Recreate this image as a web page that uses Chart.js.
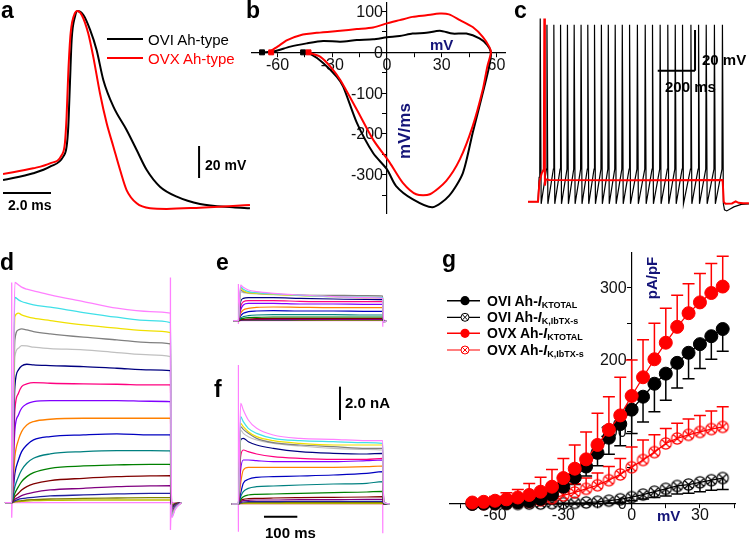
<!DOCTYPE html>
<html>
<head>
<meta charset="utf-8">
<title>Ah-type neurons</title>
<script src="https://cdn.jsdelivr.net/npm/chart.js"></script>
<style>
  body { margin: 0; background: #fff; font-family: "Liberation Sans", Arial, sans-serif; }
  #fig { position: relative; width: 749px; height: 539px; overflow: hidden; }
  #fig canvas, #fig .t, #fig svg, #fig .ln { position: absolute; }
  .t { line-height: 1; white-space: nowrap; color: #000; }
  .p { font-size: 23px; font-weight: bold; }
  .s { font-size: 15px; font-weight: bold; }
  .u { font-size: 15px; font-weight: bold; color: #141478; }
  .rot { transform: translate(-50%, -50%) rotate(-90deg); }
  .lg { font-size: 14px; font-weight: bold; }
  .lg sub { font-size: 9px; vertical-align: -2px; line-height: 0; }
</style>
</head>
<body>
<div id="fig">
  <canvas id="chartA" width="250" height="215" style="left:3px;top:0"></canvas>
  <canvas id="chartB" width="275" height="230" style="left:240px;top:0"></canvas>
  <canvas id="chartC" width="221" height="205" style="left:528px;top:10px"></canvas>
  <canvas id="chartD" width="190" height="265" style="left:0;top:270px"></canvas>
  <canvas id="chartE" width="165" height="60" style="left:225px;top:270px"></canvas>
  <canvas id="chartF" width="165" height="175" style="left:225px;top:360px"></canvas>
  <canvas id="chartG" width="300" height="285" style="left:440px;top:245px"></canvas>

  <div class="t p" style="left:1px;top:-1px">a</div>
  <div class="t p" style="left:246px;top:-1px">b</div>
  <div class="t p" style="left:514px;top:-1px">c</div>
  <div class="t p" style="left:0;top:251px">d</div>
  <div class="t p" style="left:216px;top:251px">e</div>
  <div class="t p" style="left:214px;top:378px">f</div>
  <div class="t p" style="left:442px;top:248px">g</div>

  <!-- a -->
  <div class="ln" style="left:107px;top:38px;width:36px;height:2px;background:#000"></div>
  <div class="ln" style="left:107px;top:57px;width:36px;height:2px;background:#ff0000"></div>
  <div class="t" style="left:148px;top:32px;font-size:15px">OVI Ah-type</div>
  <div class="t" style="left:148px;top:51px;font-size:15px;color:#ff0000">OVX Ah-type</div>
  <div class="t" style="left:205px;top:158px;font-size:14px;font-weight:bold">20 mV</div>
  <div class="t" style="left:8px;top:198px;font-size:14px;font-weight:bold">2.0 ms</div>

  <!-- b -->
  <div class="t u" style="left:430px;top:37px">mV</div>
  <div class="t u rot" style="left:404px;top:131px;font-size:17px">mV/ms</div>

  <!-- c -->
  <div class="t s" style="left:702px;top:52px">20 mV</div>
  <div class="t s" style="left:665px;top:79px">200 ms</div>

  <!-- f -->
  <div class="t s" style="left:345px;top:395px">2.0 nA</div>
  <div class="t s" style="left:265px;top:525px">100 ms</div>

  <!-- g -->
  <div class="t u rot" style="left:651px;top:278px">pA/pF</div>
  <div class="t u" style="left:657px;top:508px">mV</div>
  <svg style="left:445px;top:292px" width="40" height="66">
    <line x1="2" y1="8.7" x2="35" y2="8.7" stroke="#000" stroke-width="1.5"/>
    <circle cx="20" cy="8.7" r="4.6" fill="#000"/>
    <line x1="2" y1="25.3" x2="35" y2="25.3" stroke="#000" stroke-width="1.2"/>
    <circle cx="20" cy="25.3" r="4" fill="#fff" stroke="#000" stroke-width="1"/>
    <path d="M17.2 22.5 L22.8 28.1 M22.8 22.5 L17.2 28.1" stroke="#000" stroke-width="1"/>
    <line x1="2" y1="41.3" x2="35" y2="41.3" stroke="#ff0000" stroke-width="1.5"/>
    <circle cx="20" cy="41.3" r="4.6" fill="#ff0000"/>
    <line x1="2" y1="58" x2="35" y2="58" stroke="#ff0000" stroke-width="1.2"/>
    <circle cx="20" cy="58" r="4" fill="#fff" stroke="#ff0000" stroke-width="1"/>
    <path d="M17.2 55.2 L22.8 60.8 M22.8 55.2 L17.2 60.8" stroke="#ff0000" stroke-width="1"/>
  </svg>
  <div class="t lg" style="left:487px;top:294px">OVI Ah-<i>I</i><sub>KTOTAL</sub></div>
  <div class="t lg" style="left:487px;top:310px">OVI Ah-<i>I</i><sub>K,IbTX-s</sub></div>
  <div class="t lg" style="left:487px;top:326px">OVX Ah-<i>I</i><sub>KTOTAL</sub></div>
  <div class="t lg" style="left:487px;top:343px">OVX Ah-<i>I</i><sub>K,IbTX-s</sub></div>
</div>

<script>
// a: single action potentials (ms, mV)
const apTimeOvi = [0, 1.26, 1.96, 2.51, 2.65, 2.72, 2.79, 2.86, 3.0, 3.1, 3.35, 3.63, 3.9, 4.18, 4.6, 5.15, 5.57, 5.99, 6.54, 7.24, 8.21, 9.58, 10.29];
const apVoltOvi = [-60, -55.8, -51.7, -45.4, -39.2, -26.7, 0.6, 27.5, 42.1, 45.6, 43.1, 33.8, 21.3, 2.5, -14.2, -28.8, -41.3, -53.8, -64.2, -70.4, -75, -77.1, -77.7];
const apTimeOvx = [0, 1.26, 1.96, 2.45, 2.58, 2.65, 2.72, 2.82, 3.0, 3.1, 3.28, 3.55, 3.76, 4.04, 4.32, 4.6, 4.88, 5.15, 5.57, 6.13, 6.82, 8.21, 9.58, 10.29];
const apVoltOvx = [-56.3, -52.7, -49.6, -44.4, -36.9, -20.4, 6.9, 31.9, 44.4, 45.6, 43.1, 31.7, 17.1, -5.8, -24.6, -39.2, -53.8, -66.3, -74.6, -77.7, -78.1, -77.3, -76.3, -75.6];

// b: phase plots, membrane potential (mV) vs dV/dt (mV/ms)
const phaseVOvi = [-68.5, -62, -53, -44, -35, -25.6, -16.5, -7.6, 0, 7, 14, 21.6, 29, 36, 43.5, 50.7, 55, 57, 56, 52.5, 47, 41.6, 34, 25, 14, 5, 0, -7.6, -16.5, -24, -27.5, -35, -42, -46];
const phaseDvOvi = [0, 2, 14, 22, 28, 26, 30, 32, 37, 40, 46, 48, 53, 46, 46, 34, 18, 0, -35, -100, -197, -296, -352, -380, -360, -328, -287, -247, -173, -84, -60, -26, -4, 0];
const phaseVOvx = [-65, -60, -54.7, -47.5, -38, -25.6, -16.5, -7.6, 0, 7, 14, 21.6, 29, 34, 40, 47, 52.5, 56, 57, 55, 52.5, 47, 40, 32.5, 23.5, 16, 8.7, 1.6, -7.6, -16.5, -25.6, -31, -36.5, -42, -44];
const phaseDvOvx = [0, 14, 30, 42, 48, 53, 57, 61, 71, 79, 87, 91, 95, 93, 79, 62, 38, 14, 0, -35, -92, -181, -262, -315, -348, -348, -320, -271, -214, -141, -68, -35, -11, -2, 0];
const phaseStartOvi = [-68.5, -46];
const phaseStartOvx = [-63.5, -43];

// c: firing during a 1 s step (ms, mV)
const spikeTimes = [11, 47, 84, 120, 157, 193, 230, 266, 302, 339, 376, 413, 451, 490, 532, 574, 613, 654, 695, 735, 774, 819, 860, 901, 945, 988];
const spikePeaks = [30, 27, 27, 27, 27, 27, 27, 27, 27, 27, 27, 27, 27, 27, 27, 27, 27, 27, 27, 27, 27, 27, 27, 27, 27, 27];
const spikeThreshold = -44;
const spikeTrough = -61;
const spikeOffsets = [-1.5, 1, 6];
const trainPreT = [-54, 0, 6];
const trainPreV = [-60, -60, -48];
const trainPostT = [1000, 1012, 1050, 1090, 1131];
const trainPostV = [-64, -64.5, -62.5, -61.3, -61];
const singleT = [-54, 0, 8, 20, 31, 34, 37, 42, 60, 500, 990, 996, 1005, 1040, 1060, 1075, 1100, 1131];
const singleV = [-60, -60, -50, -46, -44, 30, -52, -49, -49.3, -49.4, -49.3, -60, -61, -60.8, -59.8, -60.5, -60.7, -60.7];

// d, e, f: current families (ms, nA)
const stepColors = ['#ff80ff', '#40e0e8', '#f0e000', '#808080', '#c0c0c0', '#000080', '#ff0080', '#8000ff', '#ff8000', '#0000c0', '#008080', '#008000', '#800000', '#800080', '#2020a0', '#808000', '#c0c000'];
const dTime = [-17, 0, 8, 17, 25, 38, 55, 97, 181, 265, 349, 400, 403, 412, 428];
const dCurrents = [
  [0, 0, 13.2, 13.06, 12.92, 12.8, 12.7, 12.46, 12.06, 11.66, 11.46, 11.36, -0.9, -0.4, 0],
  [0, 0, 12.3, 12.16, 12.06, 11.96, 11.86, 11.72, 11.4, 11.12, 10.92, 10.8, -0.85, -0.35, 0],
  [0, 0, 11.16, 11.36, 11.26, 11.16, 11.06, 10.92, 10.66, 10.46, 10.3, 10.2, -0.8, -0.35, 0],
  [0, 0, 9.76, 10.36, 10.42, 10.36, 10.26, 10.12, 9.92, 9.76, 9.6, 9.52, -0.75, -0.3, 0],
  [0, 0, 8.76, 9.26, 9.42, 9.4, 9.32, 9.24, 9.16, 9.0, 8.86, 8.76, -0.7, -0.3, 0],
  [0, 0, 6.96, 7.96, 8.2, 8.3, 8.26, 8.22, 8.16, 8.06, 7.96, 7.92, -0.65, -0.25, 0],
  [0, 0, 5.56, 6.56, 6.96, 7.12, 7.2, 7.16, 7.12, 7.1, 7.06, 7.06, -0.6, -0.25, 0],
  [0, 0, 4.36, 5.26, 5.66, 5.92, 6.06, 6.12, 6.12, 6.12, 6.08, 6.06, -0.55, -0.2, 0],
  [0, 0, 2.76, 3.76, 4.26, 4.66, 4.86, 5.0, 5.06, 5.06, 5.06, 5.06, -0.5, -0.2, 0],
  [0, 0, 1.76, 2.56, 3.06, 3.46, 3.76, 3.96, 4.06, 4.12, 4.06, 4.06, -0.45, -0.2, 0],
  [0, 0, 0.96, 1.56, 1.96, 2.36, 2.66, 2.92, 3.06, 3.12, 3.12, 3.1, -0.4, -0.15, 0],
  [0, 0, 0.56, 0.96, 1.26, 1.56, 1.8, 2.06, 2.2, 2.26, 2.3, 2.3, -0.35, -0.15, 0],
  [0, 0, 0.36, 0.56, 0.76, 0.96, 1.12, 1.32, 1.46, 1.56, 1.6, 1.62, -0.3, -0.1, 0],
  [0, 0, 0.2, 0.32, 0.42, 0.52, 0.62, 0.76, 0.86, 0.96, 1.0, 1.02, -0.25, -0.1, 0],
  [0, 0, 0.12, 0.2, 0.24, 0.28, 0.32, 0.4, 0.46, 0.52, 0.56, 0.56, -0.2, -0.08, 0],
  [0, 0, 0.06, 0.1, 0.12, 0.16, 0.18, 0.22, 0.26, 0.28, 0.3, 0.3, -0.15, -0.05, 0],
  [0, 0, 0.04, 0.06, 0.08, 0.1, 0.12, 0.14, 0.16, 0.16, 0.16, 0.16, -0.1, -0.05, 0],
];
const dEdgeT = [-17, 0, 0, 0, 1, 400, 400, 400, 402, 428];
const dEdgeI = [0, 0, 13.2, -0.9, 0, 0, 13.5, -1.64, 0, 0];

const eTime = [-15, 0, 7, 15, 30, 55, 105, 185, 285, 385, 433, 436, 445];
const eCurrents = [
  [0, 0, 2.14, 2.0, 1.84, 1.74, 1.64, 1.54, 1.44, 1.38, 1.34, -0.1, 0],
  [0, 0, 2.04, 1.88, 1.74, 1.68, 1.6, 1.52, 1.44, 1.4, 1.38, -0.1, 0],
  [0, 0, 1.94, 1.8, 1.68, 1.64, 1.58, 1.5, 1.44, 1.38, 1.36, -0.1, 0],
  [0, 0, 1.84, 1.74, 1.68, 1.64, 1.6, 1.54, 1.52, 1.5, 1.48, -0.1, 0],
  [0, 0, 1.74, 1.68, 1.64, 1.6, 1.56, 1.52, 1.5, 1.48, 1.48, -0.1, 0],
  [0, 0, 1.14, 1.34, 1.38, 1.38, 1.38, 1.34, 1.3, 1.28, 1.26, -0.08, 0],
  [0, 0, 0.84, 1.14, 1.2, 1.2, 1.2, 1.16, 1.14, 1.14, 1.14, -0.08, 0],
  [0, 0, 0.64, 0.94, 1.04, 1.04, 1.04, 1.0, 1.0, 0.98, 0.98, -0.06, 0],
  [0, 0, 0.44, 0.64, 0.74, 0.8, 0.82, 0.8, 0.78, 0.78, 0.78, -0.06, 0],
  [0, 0, 0.28, 0.44, 0.54, 0.58, 0.6, 0.58, 0.58, 0.56, 0.56, -0.05, 0],
  [0, 0, 0.16, 0.24, 0.3, 0.34, 0.36, 0.36, 0.36, 0.34, 0.34, -0.04, 0],
  [0, 0, 0.1, 0.14, 0.18, 0.2, 0.22, 0.22, 0.22, 0.22, 0.22, -0.03, 0],
  [0, 0, 0.06, 0.08, 0.1, 0.12, 0.14, 0.14, 0.14, 0.14, 0.14, -0.02, 0],
  [0, 0, 0.04, 0.06, 0.06, 0.08, 0.08, 0.08, 0.08, 0.08, 0.08, 0, 0],
  [0, 0, 0.02, 0.04, 0.04, 0.04, 0.04, 0.06, 0.06, 0.06, 0.06, 0, 0],
  [0, 0, 0.01, 0.02, 0.02, 0.02, 0.02, 0.02, 0.04, 0.04, 0.04, 0, 0],
  [0, 0, 0.01, 0.01, 0.01, 0.01, 0.01, 0.01, 0.01, 0.01, 0.01, 0, 0],
];
const eEdgeT = [-15, 0, 0, 0, 1, 433, 433, 433, 434, 445];
const eEdgeI = [0, 0, 2.2, -0.2, 0, 0, 0.2, -0.36, 0, 0];

const fTime = [-20, 0, 7, 15, 30, 55, 105, 185, 285, 385, 433, 436, 455];
const fCurrents = [
  [0, 0, 6.04, 5.64, 5.04, 4.54, 4.14, 3.94, 3.88, 3.8, 3.8, 0.1, 0],
  [0, 0, 5.24, 4.94, 4.54, 4.24, 3.94, 3.8, 3.74, 3.68, 3.64, 0.1, 0],
  [0, 0, 4.84, 4.64, 4.34, 4.04, 3.8, 3.64, 3.54, 3.54, 3.54, 0.1, 0],
  [0, 0, 4.64, 4.48, 4.24, 3.94, 3.68, 3.54, 3.44, 3.34, 3.34, 0.1, 0],
  [0, 0, 4.44, 4.24, 4.04, 3.84, 3.64, 3.48, 3.34, 3.28, 3.24, 0.1, 0],
  [0, 0, 3.84, 3.94, 3.74, 3.54, 3.34, 3.14, 3.04, 3.0, 3.04, 0.1, 0],
  [0, 0, 2.84, 3.24, 3.14, 3.0, 2.84, 2.74, 2.68, 2.68, 2.74, 0.1, 0],
  [0, 0, 2.04, 2.64, 2.64, 2.6, 2.54, 2.54, 2.54, 2.6, 2.64, 0.1, 0],
  [0, 0, 1.24, 2.04, 2.2, 2.2, 2.2, 2.2, 2.2, 2.24, 2.28, 0.1, 0],
  [0, 0, 0.64, 1.24, 1.48, 1.6, 1.64, 1.68, 1.74, 1.84, 1.94, 0.1, 0],
  [0, 0, 0.44, 0.74, 0.94, 1.04, 1.08, 1.14, 1.2, 1.24, 1.34, 0.05, 0],
  [0, 0, 0.28, 0.44, 0.54, 0.58, 0.6, 0.64, 0.68, 0.72, 0.76, 0.05, 0],
  [0, 0, 0.2, 0.28, 0.32, 0.34, 0.36, 0.38, 0.4, 0.42, 0.44, 0, 0],
  [0, 0, 0.14, 0.2, 0.22, 0.24, 0.24, 0.26, 0.26, 0.28, 0.28, 0, 0],
  [0, 0, 0.08, 0.12, 0.14, 0.14, 0.14, 0.16, 0.16, 0.16, 0.16, 0, 0],
  [0, 0, 0.04, 0.06, 0.08, 0.08, 0.08, 0.08, 0.08, 0.08, 0.08, 0, 0],
  [0, 0, 0.02, 0.02, 0.02, 0.02, 0.02, 0.02, 0.02, 0.02, 0.02, 0, 0],
];
const fEdgeT = [-20, 0, 0, 0, 1, 433, 433, 433, 434, 455];
const fEdgeI = [0, 0, 8.34, -1.66, 0, 0, 0.44, -1.76, 0, 0];

// g: current density vs voltage (mV, pA/pF), mean and SEM
const ivVoltage = [-70, -65, -60, -55, -50, -45, -40, -35, -30, -25, -20, -15, -10, -5, 0, 5, 10, 15, 20, 25, 30, 35, 40];
const oviTotal = [0, 0.5, 1, 1.5, 2.5, 4, 7, 13, 24, 37, 52, 71, 92, 111, 131, 149, 167, 181, 196, 210, 222, 233, 243];
const oviTotalSem = [1, 1, 1, 1, 1.5, 2, 3, 5, 7, 10, 13, 18, 23, 30, 33, 35, 39, 37, 35, 36, 34, 32, 31];
const oviIbtx = [0, 0, 0, 0, 0, 0.5, 0.5, 1, 1, 1.5, 2, 3, 4.5, 6.5, 9.5, 13, 17, 21, 25, 27, 30, 33, 36];
const oviIbtxSem = [0.5, 0.5, 0.5, 0.5, 0.5, 0.5, 0.5, 1, 1, 1.5, 2, 2.5, 3, 4, 5, 6, 8, 10, 11, 12, 13, 14, 16];
const ovxTotal = [2, 3, 4.5, 6.5, 9, 12.5, 17, 24, 36, 49, 62, 82, 103, 123, 150, 176, 201, 224, 246, 265, 280, 293, 302];
const ovxTotalSem = [2, 4, 6, 9, 11, 16, 20, 24, 27, 33, 38, 44, 46, 53, 50, 52, 50, 48, 44, 41, 40, 41, 42];
const ovxIbtx = [0, 0, 0.5, 1, 2, 3, 5, 8, 12, 16, 21, 26, 33, 41, 51, 61, 72, 84, 91, 96, 100, 104, 107];
const ovxIbtxSem = [1, 1, 1.5, 2, 3, 4, 6, 8, 10, 12, 15, 17, 19, 22, 28, 28, 24, 21, 21, 22, 23, 25, 28];

const BLACK = '#000000';
const RED = '#ff0000';
const FONT = '"Liberation Sans", Arial, sans-serif';

Chart.defaults.font.family = FONT;

function trace(xs, ys, color, width, curve) {
  return {
    data: xs.map((x, i) => ({ x, y: ys[i] })),
    borderColor: color,
    backgroundColor: color,
    borderWidth: width,
    pointRadius: 0,
    fill: false,
    clip: false,
    cubicInterpolationMode: curve === 'monotone' ? 'monotone' : 'default',
    tension: typeof curve === 'number' ? curve : 0,
  };
}

const hidden = (min, max) => ({ type: 'linear', display: false, min, max });

// axis that crosses the other one at zero; labels come from the tickText plugin
function crossAxis(min, max, step, isX) {
  return {
    type: 'linear',
    min,
    max,
    position: isX ? { y: 0 } : { x: 0 },
    afterFit: (s) => {
      if (isX) s.height = 0;
      else s.width = 0;
    },
    border: { display: true, color: '#000', width: 1.2 },
    grid: { display: true, drawOnChartArea: false, drawTicks: true, tickLength: 4, color: '#000', lineWidth: 1 },
    ticks: { stepSize: step, includeBounds: false, autoSkip: false, display: false },
  };
}

// tick labels for the crossing axes, placed from the scales' own ticks
const tickText = {
  id: 'tickText',
  beforeDatasetsDraw(chart, args, opts) {
    if (!opts.xEvery) return;
    const { ctx, scales: { x, y } } = chart;
    const x0 = x.getPixelForValue(0);
    const y0 = y.getPixelForValue(0);
    ctx.save();
    ctx.font = '16px ' + FONT;
    ctx.fillStyle = '#111';
    ctx.textAlign = 'center';
    ctx.textBaseline = 'top';
    x.ticks.forEach((t) => {
      if (t.value % opts.xEvery === 0) ctx.fillText(String(t.value), x.getPixelForValue(t.value), y0 + opts.xGap);
    });
    ctx.textAlign = 'right';
    ctx.textBaseline = 'middle';
    y.ticks.forEach((t) => {
      if (t.value % opts.yEvery === 0) ctx.fillText(String(t.value), x0 - opts.yGap, y.getPixelForValue(t.value) + 1);
    });
    ctx.restore();
  },
};

function makeChart(id, datasets, scales, padding, extra) {
  const more = extra || {};
  return new Chart(document.getElementById(id), {
    type: 'line',
    data: { datasets },
    options: {
      responsive: false,
      animation: false,
      events: [],
      layout: { autoPadding: false, padding: padding || 0 },
      plugins: { legend: { display: false }, tooltip: { enabled: false }, tickText: more.labels || {} },
      scales,
    },
    plugins: [tickText].concat(more.plugins || []),
  });
}

function family(time, currents, edgeT, edgeI, width) {
  const sets = currents.map((c, i) => trace(time, c, stepColors[i], width, 'monotone'));
  sets.push(trace(edgeT, edgeI, '#ff80ff', width));
  return sets;
}

// a
makeChart('chartA', [
  trace(apTimeOvx, apVoltOvx, RED, 2, 'monotone'),
  trace(apTimeOvi, apVoltOvi, BLACK, 2, 'monotone'),
  trace([8.17, 8.17], [-38.75, -58.75], BLACK, 2),
  trace([0, 2], [-68.1, -68.1], BLACK, 2),
], { x: hidden(0, 10.417), y: hidden(-81.9, 52.5) });

// b
const startMarks = (vs, color) => ({
  data: vs.map((v) => ({ x: v, y: 0 })),
  showLine: false,
  pointStyle: 'rect',
  pointRadius: 3.5,
  pointBackgroundColor: color,
  pointBorderColor: color,
  clip: false,
});
makeChart('chartB', [
  startMarks(phaseStartOvx, RED),
  startMarks(phaseStartOvi, BLACK),
  trace(phaseVOvx, phaseDvOvx, RED, 2, 0.25),
  trace(phaseVOvi, phaseDvOvi, BLACK, 2, 0.25),
], {
  x: crossAxis(-74, 64.7, 15, true),
  y: crossAxis(-394, 121, 50, false),
}, { left: 12, right: 10, top: 3, bottom: 17 }, { labels: { xEvery: 30, yEvery: 100, xGap: 5, yGap: 4 } });

// c
const trainT = [...trainPreT];
const trainV = [...trainPreV];
spikeTimes.forEach((t, i) => {
  trainT.push(t + spikeOffsets[0], t + spikeOffsets[1], t + spikeOffsets[2]);
  trainV.push(spikeThreshold, spikePeaks[i], spikeTrough);
});
trainT.push(...trainPostT);
trainV.push(...trainPostV);
makeChart('chartC', [
  trace(singleT, singleV, RED, 2),
  trace(trainT, trainV, BLACK, 1.2),
  trace([842, 842], [24.4, 4.4], BLACK, 2),
  trace([642, 842], [4.4, 4.4], BLACK, 2),
], { x: hidden(-53.6, 1131.4), y: hidden(-66.5, 34.2) });

// d, e, f
makeChart('chartD', family(dTime, dCurrents, dEdgeT, dEdgeI, 1.3),
  { x: hidden(-29.5, 449.3), y: hidden(-1.94, 13.95) });
makeChart('chartE', family(eTime, eCurrents, eEdgeT, eEdgeI, 1.2),
  { x: hidden(-39.9, 455), y: hidden(-0.56, 3.04) });
makeChart('chartF', [
  ...family(fTime, fCurrents, fEdgeT, fEdgeI, 1.2),
  trace([305, 305], [5.04, 7.04], BLACK, 2),
  trace([77, 177], [-0.76, -0.76], BLACK, 2),
], { x: hidden(-39.9, 455), y: hidden(-1.86, 8.64) });

// g
function crossCircle(color, r) {
  const c = document.createElement('canvas');
  const s = Math.ceil(2 * r + 3);
  c.width = c.height = s;
  const g = c.getContext('2d');
  const m = s / 2;
  const d = r * 0.707;
  g.strokeStyle = color;
  g.lineWidth = 1.2;
  g.beginPath();
  g.arc(m, m, r, 0, Math.PI * 2);
  g.moveTo(m - d, m - d);
  g.lineTo(m + d, m + d);
  g.moveTo(m + d, m - d);
  g.lineTo(m - d, m + d);
  g.stroke();
  return c;
}

function ivSeries(values, sem, dir, color, filled, order) {
  return {
    data: ivVoltage.map((v, i) => ({ x: v, y: values[i] })),
    sem,
    semDir: dir,
    borderColor: color,
    backgroundColor: color,
    borderWidth: 1.3,
    pointStyle: filled ? 'circle' : crossCircle(color, 5.6),
    pointRadius: filled ? 6.5 : 6,
    pointBorderWidth: 1,
    pointBackgroundColor: color,
    pointBorderColor: color,
    clip: false,
    order,
  };
}

const semBars = {
  id: 'semBars',
  beforeDatasetsDraw(chart) {
    const { ctx, scales: { x, y } } = chart;
    chart.data.datasets.forEach((ds) => {
      ctx.save();
      ctx.strokeStyle = ds.borderColor;
      ctx.lineWidth = 1.5;
      ds.data.forEach((p, i) => {
        const px = x.getPixelForValue(p.x);
        const y0 = y.getPixelForValue(p.y);
        const y1 = y.getPixelForValue(p.y + ds.semDir * ds.sem[i]);
        ctx.beginPath();
        ctx.moveTo(px, y0);
        ctx.lineTo(px, y1);
        ctx.moveTo(px - 6, y1);
        ctx.lineTo(px + 6, y1);
        ctx.stroke();
      });
      ctx.restore();
    });
  },
};

makeChart('chartG', [
  ivSeries(ovxTotal, ovxTotalSem, 1, RED, true, 1),
  ivSeries(oviTotal, oviTotalSem, -1, BLACK, true, 2),
  ivSeries(ovxIbtx, ovxIbtxSem, 1, RED, false, 3),
  ivSeries(oviIbtx, oviIbtxSem, -1, BLACK, false, 4),
], {
  x: crossAxis(-79.8, 45.4, 15, true),
  y: crossAxis(-5.6, 348.6, 50, false),
}, { left: 10, right: 5, top: 8, bottom: 22 }, {
  labels: { xEvery: 30, yEvery: 100, xGap: 4, yGap: 5 },
  plugins: [semBars],
});
</script>
</body>
</html>
